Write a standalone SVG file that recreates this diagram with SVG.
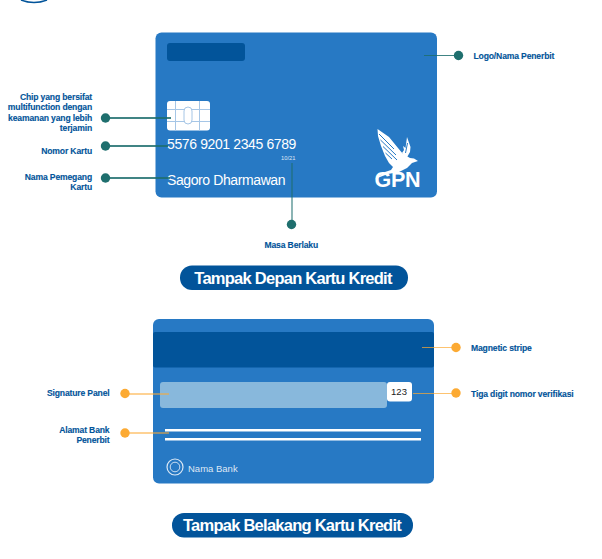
<svg xmlns="http://www.w3.org/2000/svg" width="602" height="559" viewBox="0 0 602 559">
<style>
.card{fill:#2779c4}
.dark{fill:#02549a}
.lab{font:bold 8.6px "Liberation Sans",Arial,sans-serif;fill:#02549a;letter-spacing:-.16px;stroke:#02549a;stroke-width:.12px}
.r{text-anchor:end}
.white{font-family:"Liberation Sans",Arial,sans-serif;fill:#fff}
.title{font:bold 16.5px "Liberation Sans",Arial,sans-serif;fill:#fff;text-anchor:middle;letter-spacing:-.75px}
.t{fill:#1f6f6e}
.o{fill:#fcaa33}
.lt{stroke:#1f6f6e;fill:none;opacity:.85}
.lo{stroke:#fcaa33;fill:none;opacity:.7}
.chipl{stroke:#a6c6e6;stroke-width:1;fill:none}
</style>
<rect width="602" height="559" fill="#fff"/>
<g id="top-arc"><path d="M21 0Q34 5 47 0" fill="none" stroke="#02549a" stroke-width="1.500"/></g>

<g id="front-card">
<rect class="card" x="155.500" y="32.500" width="281.500" height="165" rx="6"/>
<rect class="dark" x="167" y="43" width="78" height="18" rx="3"/>
<g id="chip">
<rect x="167" y="101" width="43" height="29.500" rx="3" fill="#fff"/>
<path class="chipl" d="M175.500 101v29.500M199.500 101v29.500M167 109.500h17M167 121.500h17M192 109.500h18M192 121.500h18"/>
<rect class="chipl" x="184" y="107" width="8" height="17" rx="4"/>
</g>
<text class="white" x="167" y="148.500" font-size="14" letter-spacing="-.38">5576 9201 2345 6789</text>
<text class="white" x="281" y="159.500" font-size="5.800" fill-opacity=".85">10/21</text>
<text class="white" x="167" y="185" font-size="14" letter-spacing="-.4">Sagoro Dharmawan</text>
<g id="gpn-logo">
<path fill="#fff" d="M377.500 129L389 137L398 148L403 154L410 158L414 158.500L418 161L412 163L407 168L399 172L388 174L380 177L375 179L385 172L391 170L393 167L389 163L385 156L381 146L378 136Z"/>
<path d="M379 134L394 149M380.500 140L396 155M383 146.500L397 160M385.500 153L392 159" stroke="#2779c4" stroke-width="1" fill="none"/>
<path fill="#fff" d="M407 137L410.500 147L410 152L406 159L402 153L404 150L403 146L405.500 148Z"/>
<path d="M407.500 143L405.500 153" stroke="#2779c4" stroke-width="1" fill="none"/>
<text class="white" x="374.500" y="187" font-size="21.500" font-weight="bold" letter-spacing="-.3">GPN</text>
</g>
</g>

<g id="back-card">
<rect class="card" x="153" y="319" width="281" height="164.500" rx="6"/>
<rect class="dark" x="153" y="332" width="281" height="35.500" rx="2"/>
<rect x="160" y="382" width="227" height="26" rx="3" fill="#88b8dc"/>
<g id="cvv">
<rect x="387" y="382" width="25" height="19.500" rx="3" fill="#fff"/>
<text x="399" y="395" font-family="'Liberation Sans',Arial,sans-serif" font-size="9.500" fill="#222" text-anchor="middle">123</text>
</g>
<rect x="165" y="429" width="256" height="2.500" fill="#fff"/>
<rect x="165" y="438" width="256" height="2.500" fill="#fff"/>
<g id="bank-mark" fill="none" stroke="#dbe8f5">
<circle cx="175" cy="467" r="8" stroke-width="1.200"/>
<circle cx="175" cy="467" r="4.800" stroke-width=".9"/>
</g>
<text class="white" x="188" y="471.500" font-size="9.500" fill-opacity=".85">Nama Bank</text>
</g>

<g id="connectors">
<path class="lt" stroke-width="2" d="M106 118H171M106 146H168M106 178H170"/>
<path class="lt" stroke-width="1.200" d="M292 163V225M424 55.500H458"/>
<path class="lo" stroke-width="1.500" d="M125 394H169M125 433H169"/>
<path class="lo" stroke-width="1.200" d="M422 347.500H456M413 393.500H456"/>
</g>

<g id="n-chip"><circle class="t" cx="105.500" cy="118" r="4.700"/>
<text class="lab r"><tspan x="92" y="99.500">Chip yang bersifat</tspan><tspan x="92" y="110">multifunction dengan</tspan><tspan x="92" y="120.500">keamanan yang lebih</tspan><tspan x="92" y="131">terjamin</tspan></text></g>
<g id="n-nomor"><circle class="t" cx="105.500" cy="146" r="4.700"/><text class="lab r" x="92" y="153.500">Nomor Kartu</text></g>
<g id="n-nama"><circle class="t" cx="105.500" cy="178" r="4.700"/>
<text class="lab r"><tspan x="92" y="179.500">Nama Pemegang</tspan><tspan x="92" y="190">Kartu</tspan></text></g>
<g id="n-masa"><circle class="t" cx="291.500" cy="224.500" r="4.700"/><text class="lab" x="264.500" y="247.500">Masa Berlaku</text></g>
<g id="n-logo"><circle class="t" cx="458.500" cy="55.500" r="4.700"/><text class="lab" x="473.500" y="59">Logo/Nama Penerbit</text></g>
<g id="n-sign"><circle class="o" cx="125" cy="393.500" r="4.700"/><text class="lab r" x="109.500" y="395.500">Signature Panel</text></g>
<g id="n-alamat"><circle class="o" cx="125" cy="433" r="4.700"/>
<text class="lab r"><tspan x="109.500" y="432.500">Alamat Bank</tspan><tspan x="109.500" y="443">Penerbit</tspan></text></g>
<g id="n-stripe"><circle class="o" cx="456" cy="347.500" r="4.700"/><text class="lab" x="471" y="351">Magnetic stripe</text></g>
<g id="n-cvv"><circle class="o" cx="456" cy="393" r="4.700"/><text class="lab" x="471" y="397">Tiga digit nomor verifikasi</text></g>

<g id="title-front"><rect class="dark" x="180" y="265.500" width="228" height="24.500" rx="12"/><text class="title" x="293" y="283.500">Tampak Depan Kartu Kredit</text></g>
<g id="title-back"><rect class="dark" x="172" y="513" width="241" height="24.500" rx="12"/><text class="title" x="292" y="531">Tampak Belakang Kartu Kredit</text></g>
</svg>
